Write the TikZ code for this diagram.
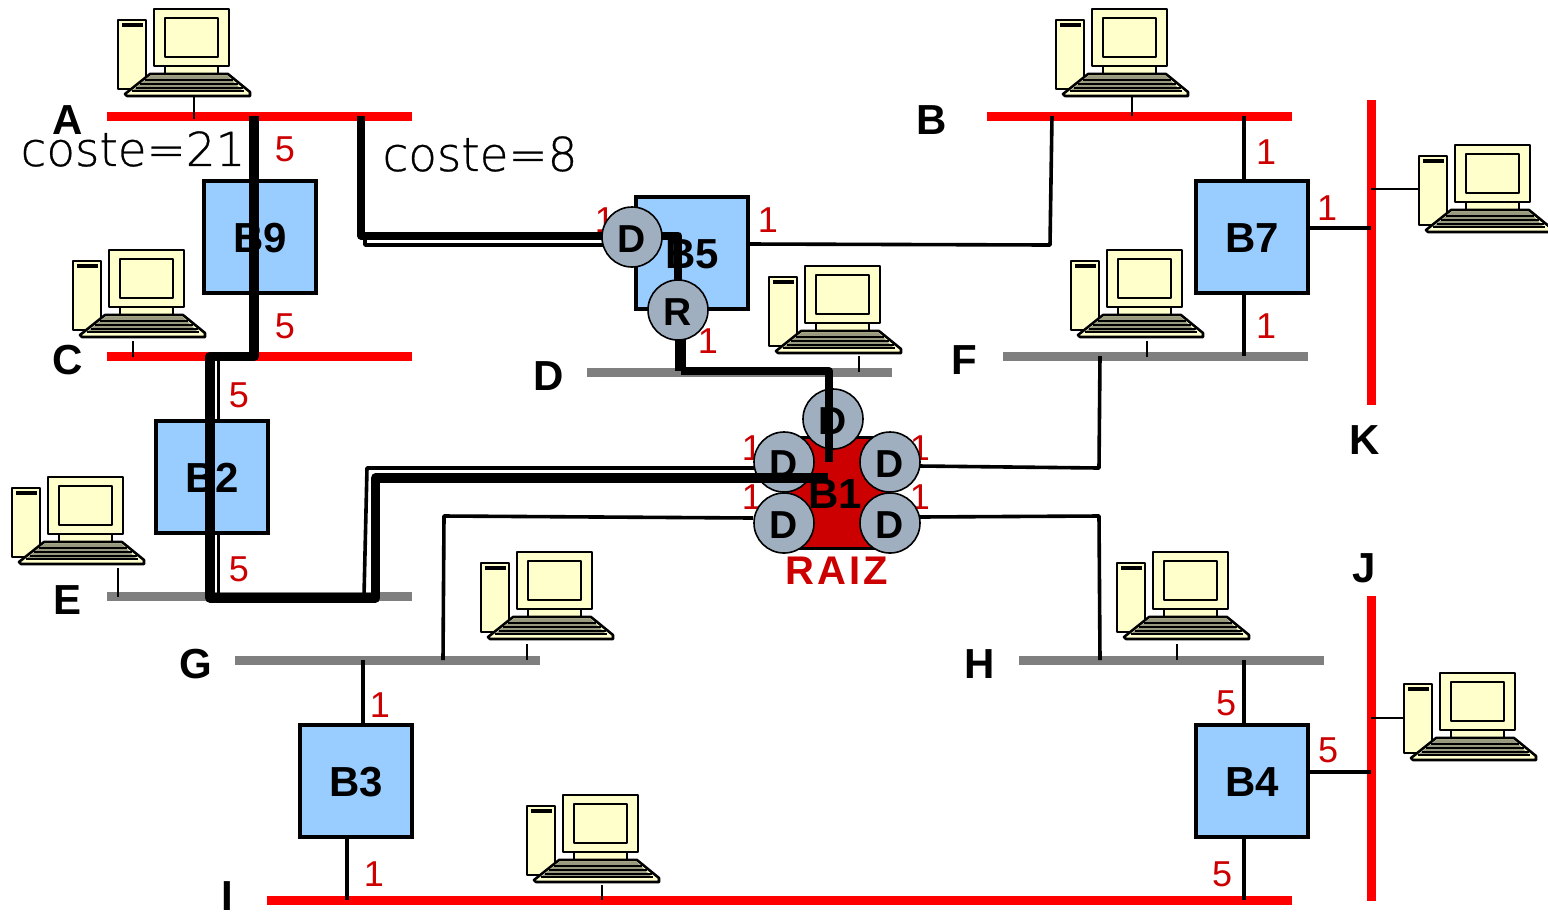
\documentclass[tikz,border=0pt]{standalone}
\usepackage{fontspec}
\setmainfont{Liberation Sans}
\newfontfamily\costefont[FakeBold=0.6]{DejaVu Sans ExtraLight}
\definecolor{pcy}{HTML}{FFFFCC}
\definecolor{keyg}{HTML}{99997F}
\definecolor{brb}{HTML}{99CCFF}
\definecolor{portg}{HTML}{A0AFBF}
\definecolor{rootr}{HTML}{CC0000}
\definecolor{segr}{HTML}{FF0000}
\definecolor{segg}{HTML}{7F7F7F}
\tikzset{
 x=0.5pt,y=-0.5pt,
 pcline/.style={draw=black,line width=1.3pt,fill=pcy,line join=round},
 hbus/.style={rectangle,inner sep=0pt,minimum height=4.5pt,minimum width=152.5pt},
 vbus/.style={rectangle,inner sep=0pt,minimum width=4.5pt,minimum height=152.5pt,fill=segr},
 redbus/.style={hbus,fill=segr},
 greybus/.style={hbus,fill=segg},
 bridge/.style={rectangle,draw=black,line width=2pt,fill=brb,minimum width=56pt,minimum height=56pt,inner sep=0pt,text height=15.5pt,text depth=0pt,font=\fontsize{21}{21}\bfseries},
 rootbridge/.style={rectangle,draw=black,line width=1.5pt,fill=rootr,minimum width=50pt,minimum height=55.5pt,inner sep=0pt},
 portn/.style={circle,draw=black,line width=0.8pt,fill=portg,minimum size=30pt,inner sep=0pt,text height=15pt,text depth=0pt,font=\fontsize{19.5}{19.5}\bfseries},
 seglabel/.style={inner sep=0pt,font=\fontsize{21}{21}\bfseries},
 costn/.style={inner sep=0pt,text=rootr,font=\fontsize{18}{18}\selectfont},
 costetext/.style={inner sep=0pt,font=\fontsize{23.4}{23.4}\costefont},
 link/.style={draw=black,line width=1.8pt,line join=round},
 stub/.style={draw=black,line width=0.9pt},
 activea/.style={draw=black,line width=4.6pt,line join=round},
 activeb/.style={draw=black,line width=4pt,line join=round},
 computer/.pic={
  \draw[pcline] (0,11) rectangle (28,80);
  \fill[black] (4,14) rectangle (25,17.5);
  \draw[pcline,line width=0.8pt] (47,57) rectangle (100,66);
  \draw[pcline] (36,0) rectangle (111,57);
  \draw[pcline] (47,9) rectangle (100,48);
  \draw[pcline] (7,85) -- (32,65) -- (110,65) -- (132,83) -- (132,87) -- (9,87) -- cycle;
  \fill[keyg] (32,67) -- (110,67) -- (124,81) -- (15,81) -- cycle;
  \foreach \yy/\xa/\xb in {71/27/115,75/22/120,79/18/125}{
   \draw[black,line width=0.8pt] (\xa,\yy) -- (\xb,\yy);}
  \draw[black,line width=0.9pt] (14,82) -- (126,82);
 }
}
\begin{document}
\begin{tikzpicture}
\useasboundingbox (0,0) rectangle (1548,912);

% segments
\node[redbus] (segA) at (259.5,116) {};
\node[redbus] (segB) at (1139.5,116) {};
\node[redbus] (segC) at (259.5,356) {};
\node[greybus] (segD) at (739.5,372) {};
\node[greybus] (segF) at (1155.5,356) {};
\node[greybus] (segE) at (259.5,596) {};
\node[greybus] (segG) at (387.5,660) {};
\node[greybus] (segH) at (1171.5,660) {};
\node[redbus,minimum width=512.5pt] (segI) at (779.5,900) {};
\node[vbus] (segK) at (1371,252) {};
\node[vbus] (segJ) at (1371,748) {};

% computers
\pic at (118,9) {computer};
\pic at (1056,9) {computer};
\pic at (73,250) {computer};
\pic at (1419,145) {computer};
\pic at (1071,250) {computer};
\pic at (769,266) {computer};
\pic at (12,477) {computer};
\pic at (481,552) {computer};
\pic at (1117,552) {computer};
\pic at (527,795) {computer};
\pic at (1404,673) {computer};

% computer drops
\coordinate (pA) at (194,97);  \coordinate (sA) at (194,119);
\coordinate (pB) at (1132,97); \coordinate (sB) at (1132,116);
\coordinate (pC) at (133,341); \coordinate (sC) at (133,357);
\coordinate (pF) at (1147,341);\coordinate (sF) at (1147,357);
\coordinate (pD) at (859,356); \coordinate (sD) at (859,372);
\coordinate (pE) at (118,568); \coordinate (sE) at (118,597);
\coordinate (pG) at (527,644); \coordinate (sG) at (527,660);
\coordinate (pH) at (1177,644);\coordinate (sH) at (1177,660);
\coordinate (pI) at (602,885); \coordinate (sI) at (602,900);
\coordinate (pK) at (1419,189);\coordinate (sK) at (1371,189);
\coordinate (pJ) at (1404,718);\coordinate (sJ) at (1371,718);
\foreach \pp/\ss in {pA/sA,pB/sB,pC/sC,pF/sF,pD/sD,pE/sE,pG/sG,pH/sH,pI/sI,pK/sK,pJ/sJ}{
 \draw[stub] (\pp) -- (\ss);}

% cost labels that sit behind the ports
\node[costn] (c5l) at (605,220) {1};
\node[costn] (c1a) at (752,448) {1};
\node[costn] (c1b) at (920,448) {1};
\node[costn] (c1c) at (752,497) {1};
\node[costn] (c1d) at (920,497) {1};

% thin links (ends)
\coordinate (b5e) at (749,244); \coordinate (b5x) at (1050,245); \coordinate (sBl) at (1052,116);
\draw[link] (b5e) -- (b5x) -- (sBl);
\coordinate (b7n) at (1244,180); \coordinate (sB7) at (1244,116);
\coordinate (b7s) at (1244,293); \coordinate (sF7) at (1244,356);
\coordinate (b7e) at (1309,228); \coordinate (sK7) at (1371,228);
\draw[link] (sB7) -- (b7n); \draw[link] (b7s) -- (sF7); \draw[link] (b7e) -- (sK7);
\coordinate (b1f) at (919,466); \coordinate (b1fx) at (1099,468); \coordinate (sF1) at (1100,356);
\draw[link] (b1f) -- (b1fx) -- (sF1);
\coordinate (b1h) at (919,517); \coordinate (b1hx) at (1099,516); \coordinate (sH1) at (1100,660);
\draw[link] (b1h) -- (b1hx) -- (sH1);
\coordinate (b1g) at (753,518); \coordinate (b1gx) at (444,516); \coordinate (sG1) at (443,660);
\draw[link] (b1g) -- (b1gx) -- (sG1);
\coordinate (b3n) at (363,724); \coordinate (sG3) at (363,660);
\coordinate (b3s) at (347,837); \coordinate (sI3) at (347,900);
\draw[link] (sG3) -- (b3n); \draw[link] (b3s) -- (sI3);
\coordinate (b4n) at (1244,724); \coordinate (sH4) at (1244,660);
\coordinate (b4s) at (1244,837); \coordinate (sI4) at (1244,900);
\coordinate (b4e) at (1309,772); \coordinate (sJ4) at (1371,772);
\draw[link] (sH4) -- (b4n); \draw[link] (b4s) -- (sI4); \draw[link] (b4e) -- (sJ4);

% doubled thin lines of the tree
\coordinate (t1a) at (218.5,356); \coordinate (t1b) at (218.5,596);
\draw[link] (t1a) -- (t1b);
\coordinate (t2a) at (364,596); \coordinate (t2b) at (367,468); \coordinate (t2c) at (760,468);
\draw[link] (t2a) -- (t2b) -- (t2c);
\coordinate (t3a) at (365,236); \coordinate (t3b) at (365,245); \coordinate (t3c) at (610,245);
\draw[link] (t3a) -- (t3b) -- (t3c);

% bridges
\node[bridge] (B9) at (260,236.5) {B9};
\node[bridge] (B5) at (692,252.5) {B5};
\node[bridge] (B7) at (1252,236.5) {B7};
\node[bridge] (B2) at (212,476.5) {B2};
\node[bridge] (B3) at (356,780.5) {B3};
\node[bridge] (B4) at (1252,780.5) {B4};
\node[rootbridge] (B1) at (837,492.5) {};
\node[inner sep=0pt,font=\fontsize{21}{21}\bfseries] (B1t) at (835,494) {B1};

% active path through B5, under the ports
\coordinate (t4a) at (361,116); \coordinate (t4b) at (361,235.5); \coordinate (t4c) at (678,235.5); \coordinate (t4d) at (678,310);
\draw[activeb] (t4a) -- (t4b) -- (t4c) -- (t4d);

% ports
\node[portn] (pd5) at (632,237) {D};
\node[portn] (pr5) at (678,310) {R};
\node[portn] (pd1t) at (833,419) {D};
\node[portn] (pd1a) at (784,462) {D};
\node[portn] (pd1b) at (890,462) {D};
\node[portn] (pd1c) at (784,523) {D};
\node[portn] (pd1d) at (890,523) {D};

% active paths over the ports
\coordinate (t5a) at (254,116); \coordinate (t5b) at (254,356.5); \coordinate (t5c) at (210,356.5);
\coordinate (t5d) at (210,598); \coordinate (t5e) at (375.5,598); \coordinate (t5f) at (375.5,478); \coordinate (t5g) at (828,478);
\draw[activea] (t5a) -- (t5b) -- (t5c) -- (t5d) -- (t5e) -- (t5f) -- (t5g);
\coordinate (t6a) at (680.5,340); \coordinate (t6b) at (680.5,371); \coordinate (t6c) at (829,371); \coordinate (t6d) at (829,462);
\draw[activea,line width=5.4pt] (t6a) -- (t6b);
\draw[activeb] (t6b) -- (t6c) -- (t6d);

% cost numbers
\node[costn] (n1) at (285,149) {5};
\node[costn] (n2) at (285,326) {5};
\node[costn] (n3) at (239,395) {5};
\node[costn] (n4) at (239,569) {5};
\node[costn] (n5) at (768,220) {1};
\node[costn] (n6) at (708,341) {1};
\node[costn] (n7) at (1266,152) {1};
\node[costn] (n8) at (1327,208) {1};
\node[costn] (n9) at (1266,326) {1};
\node[costn] (n10) at (380,705) {1};
\node[costn] (n11) at (374,874) {1};
\node[costn] (n12) at (1226,703) {5};
\node[costn] (n13) at (1328,750) {5};
\node[costn] (n14) at (1222,874) {5};

% segment labels
\node[seglabel] (lA) at (68,120) {A};
\node[seglabel] (lB) at (932,120) {B};
\node[seglabel] (lC) at (68,360) {C};
\node[seglabel] (lD) at (549,376) {D};
\node[seglabel] (lF) at (964,360) {F};
\node[seglabel] (lE) at (68,600) {E};
\node[seglabel] (lG) at (196,664) {G};
\node[seglabel] (lH) at (980,664) {H};
\node[seglabel] (lI) at (227,896) {I};
\node[seglabel] (lK) at (1365,440) {K};
\node[seglabel] (lJ) at (1364,568) {J};

\node[inner sep=0pt,text=rootr,font=\fontsize{20}{20}\bfseries\addfontfeature{LetterSpace=8}] (raiz) at (837,571) {RAIZ};
\node[costetext] (cost21) at (133,149) {coste=21};
\node[costetext] (cost8) at (480,154) {coste=8};
\end{tikzpicture}
\end{document}
